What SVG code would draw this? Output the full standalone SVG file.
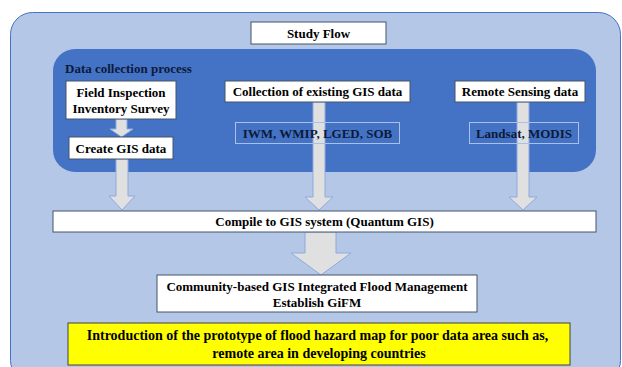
<svg xmlns="http://www.w3.org/2000/svg" width="622" height="367" viewBox="0 0 622 367">
<style>
text{font-family:"Liberation Serif","Times New Roman",serif;font-weight:bold;font-size:13px;text-anchor:middle;fill:#000}
.box{fill:#fff;stroke:#44546a;stroke-width:1}
.lbl{fill:none;stroke:#a9c1ea;stroke-width:1}
.arrow{fill:#e0e0e0;stroke:#8faadc;stroke-width:1}
.navy{fill:#0c1a3a}
</style>
<rect width="622" height="367" fill="#fff"/>
<rect id="outer" x="10.5" y="12.5" width="610" height="370" rx="22" fill="#b4c7e7" stroke="#4472c4" stroke-width="1"/>
<rect id="inner" x="53" y="49" width="543" height="123" rx="22" fill="#4472c4"/>
<g id="connectors">
<polygon class="arrow" points="116,119 127,119 127,129 133,129 121.5,137 110,129 116,129"/>
<polygon class="arrow" points="116,159 128,159 128,196 135,196 122,210 109,196 116,196"/>
<polygon class="arrow" points="313,102 325,102 325,197 333,197 319,210 305,197 313,197"/>
<polygon class="arrow" points="517,102 529,102 529,197 537,197 523,210 509,197 517,197"/>
<polygon class="arrow" points="305,232 336,232 336,253 351,253 321,275 291,253 305,253"/>
</g>
<g id="title"><rect class="box" x="251" y="22" width="135" height="22"/><text x="318.5" y="37.5">Study Flow</text></g>
<text class="navy" x="65" y="72.5" style="text-anchor:start">Data collection process</text>
<g id="field"><rect class="box" x="66" y="81" width="110" height="38"/><text x="121" y="96.5">Field Inspection</text><text x="121" y="112.5">Inventory Survey</text></g>
<g id="create"><rect class="box" x="69" y="137" width="104" height="22"/><text x="121" y="152.5">Create GIS data</text></g>
<g id="existing"><rect class="box" x="225" y="81" width="185" height="21"/><text x="317.5" y="96">Collection of existing GIS data</text></g>
<g id="iwm"><rect class="lbl" x="235.5" y="122.5" width="164" height="21"/><text class="navy" x="317.5" y="137.5">IWM, WMIP, LGED, SOB</text></g>
<g id="remote"><rect class="box" x="455" y="81" width="130" height="21"/><text x="520" y="96">Remote Sensing data</text></g>
<g id="landsat"><rect class="lbl" x="469.5" y="122.5" width="109" height="21"/><text class="navy" x="524" y="137.5">Landsat, MODIS</text></g>
<g id="compile"><rect class="box" x="53" y="211" width="543" height="21"/><text x="324.5" y="226">Compile to GIS system (Quantum GIS)</text></g>
<g id="community"><rect class="box" x="157" y="275" width="320" height="37"/><text x="317" y="291">Community-based GIS Integrated Flood Management</text><text x="317" y="306.5">Establish GiFM</text></g>
<g id="intro"><rect x="68" y="323" width="502" height="42" fill="#ffff00" stroke="#404040" stroke-width="1"/><text x="317.5" y="339.5" style="font-size:14px">Introduction of the prototype of flood hazard map for poor data area such as,</text><text x="319" y="357.5" style="font-size:14px">remote area in developing countries</text></g>
</svg>
